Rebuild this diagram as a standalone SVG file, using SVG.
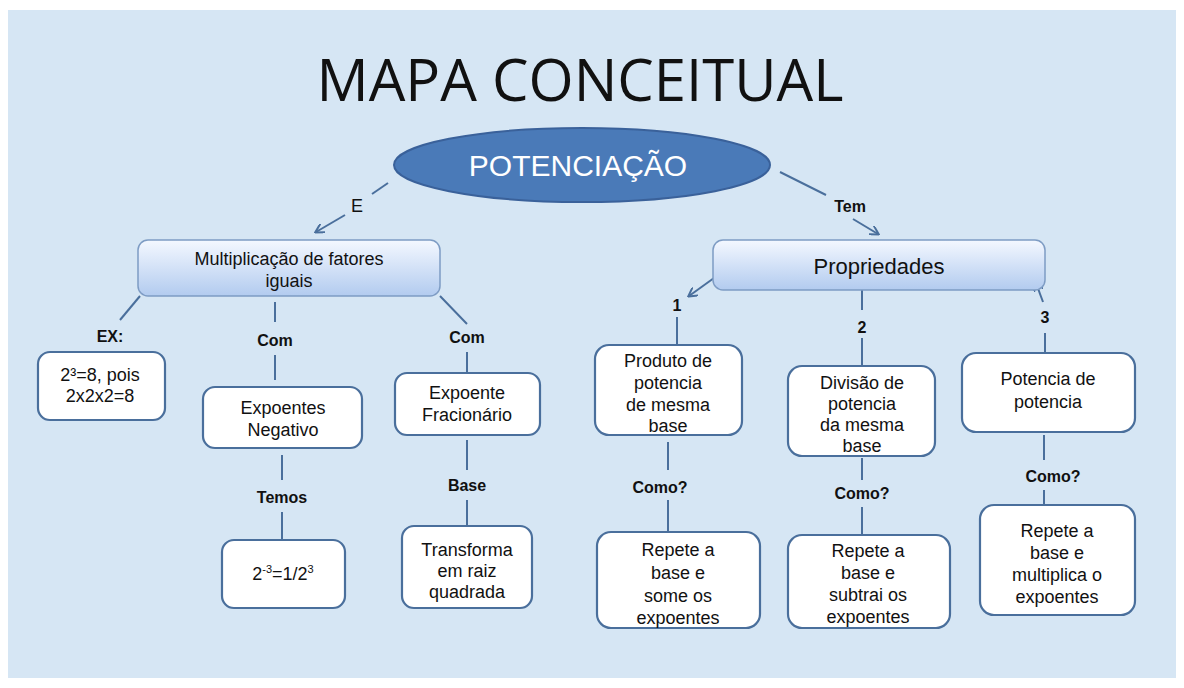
<svg xmlns="http://www.w3.org/2000/svg" width="1184" height="688" viewBox="0 0 1184 688">
<style>
text{font-family:"Liberation Sans",Arial,sans-serif;fill:#111;text-anchor:middle}
.n{font-size:18px}
.l{font-size:16px;font-weight:bold}
.b{fill:#fff;stroke:#4a6f9c;stroke-width:2.2}
.c{stroke:#4a6f9c;stroke-width:2;fill:none}
.a{marker-end:url(#ar)}
</style>
<defs>
<linearGradient id="g" x1="0" y1="0" x2="0" y2="1"><stop offset="0" stop-color="#f4f8ff"/><stop offset="1" stop-color="#b2cbef"/></linearGradient>
<marker id="ar" markerWidth="10" markerHeight="10" refX="8" refY="5" orient="auto" markerUnits="userSpaceOnUse"><path d="M0,0 L9,5 L0,10" fill="none" stroke="#4a6f9c" stroke-width="2"/></marker>
</defs>
<rect width="1184" height="688" fill="#fff"/>
<rect x="8" y="10" width="1168" height="668" fill="#d6e6f4"/>
<text x="580" y="101" style="font-family:'Open Sans','Liberation Sans',sans-serif;font-size:58px">MAPA CONCEITUAL</text>
<g id="connectors">
<path class="c" d="M388,183 L372,194"/><path class="c a" d="M345,215 L316,232"/>
<path class="c" d="M780,172 L826,195"/><path class="c a" d="M853,219 L878,234"/>
<path class="c" d="M140,296 L120,320"/>
<path class="c" d="M275,302 V322 M275,355 V380"/>
<path class="c" d="M440,296 L467,324 M467,352 V373"/>
<path class="c" d="M282,455 V480 M282,512 V540"/>
<path class="c" d="M467,440 V470 M467,500 V526"/>
<path class="c a" d="M714,278 L689,296"/><path class="c" d="M677,317 V345"/>
<path class="c" d="M862,285 V310 M862,338 V366"/>
<path class="c a" d="M1043,302 L1036,283"/><path class="c" d="M1045,333 V354"/>
<path class="c" d="M668,442 V470 M668,500 V532"/>
<path class="c" d="M862,458 V480 M862,507 V535"/>
<path class="c" d="M1044,435 V460 M1044,490 V505"/>
</g>
<g id="lbls">
<text x="357" y="212" class="n">E</text>
<text x="850" y="212" class="l">Tem</text>
<text x="110" y="342" class="l">EX:</text>
<text x="275" y="346" class="l">Com</text>
<text x="467" y="343" class="l">Com</text>
<text x="282" y="503" class="l">Temos</text>
<text x="467" y="491" class="l">Base</text>
<text x="677" y="311" class="l">1</text>
<text x="862" y="333" class="l">2</text>
<text x="1045" y="323" class="l">3</text>
<text x="660" y="493" class="l">Como?</text>
<text x="862" y="499" class="l">Como?</text>
<text x="1053" y="482" class="l">Como?</text>
</g>
<g id="potenciacao"><ellipse cx="582" cy="165" rx="188" ry="37" fill="#4a7ab8" stroke="#3a619a" stroke-width="2"/><text x="578" y="176" style="font-size:30px;fill:#fff">POTENCIAÇÃO</text></g>
<g id="mult"><rect x="138" y="240" width="302" height="56" rx="10" fill="url(#g)" stroke="#7e9cc4" stroke-width="1.5"/><text x="289" y="265" class="n">Multiplicação de fatores</text><text x="289" y="287" class="n">iguais</text></g>
<g id="prop"><rect x="713" y="240" width="332" height="50" rx="10" fill="url(#g)" stroke="#7e9cc4" stroke-width="1.5"/><text x="879" y="274" style="font-size:22px">Propriedades</text></g>
<g id="ex"><rect class="b" x="38" y="352" width="127" height="68" rx="12"/><text x="100" y="381" class="n">2³=8, pois</text><text x="100" y="402" class="n">2x2x2=8</text></g>
<g id="neg"><rect class="b" x="203" y="387" width="159" height="61" rx="12"/><text x="283" y="414" class="n">Expoentes</text><text x="283" y="436" class="n">Negativo</text></g>
<g id="frac"><rect class="b" x="395" y="373" width="145" height="62" rx="12"/><text x="467" y="399" class="n">Expoente</text><text x="467" y="421" class="n">Fracionário</text></g>
<g id="negex"><rect class="b" x="222" y="540" width="123" height="68" rx="12"/><text x="283" y="580" class="n">2<tspan font-size="11" dy="-7">-3</tspan><tspan dy="7">=1/2</tspan><tspan font-size="11" dy="-7">3</tspan></text></g>
<g id="raiz"><rect class="b" x="402" y="526" width="130" height="82" rx="12"/><text x="467" y="556" class="n">Transforma</text><text x="467" y="577" class="n">em raiz</text><text x="467" y="598" class="n">quadrada</text></g>
<g id="produto"><rect class="b" x="595" y="345" width="147" height="90" rx="14"/><text x="668" y="367" class="n">Produto de</text><text x="668" y="389" class="n">potencia</text><text x="668" y="411" class="n">de mesma</text><text x="668" y="432" class="n">base</text></g>
<g id="divisao"><rect class="b" x="788" y="366" width="147" height="90" rx="14"/><text x="862" y="389" class="n">Divisão de</text><text x="862" y="410" class="n">potencia</text><text x="862" y="431" class="n">da mesma</text><text x="862" y="452" class="n">base</text></g>
<g id="potpot"><rect class="b" x="962" y="353" width="173" height="79" rx="14"/><text x="1048" y="385" class="n">Potencia de</text><text x="1048" y="408" class="n">potencia</text></g>
<g id="r1"><rect class="b" x="597" y="532" width="163" height="96" rx="14"/><text x="678" y="556" class="n">Repete a</text><text x="678" y="579" class="n">base e</text><text x="678" y="602" class="n">some os</text><text x="678" y="624" class="n">expoentes</text></g>
<g id="r2"><rect class="b" x="788" y="535" width="162" height="93" rx="14"/><text x="868" y="557" class="n">Repete a</text><text x="868" y="579" class="n">base e</text><text x="868" y="601" class="n">subtrai os</text><text x="868" y="623" class="n">expoentes</text></g>
<g id="r3"><rect class="b" x="980" y="505" width="155" height="110" rx="14"/><text x="1057" y="537" class="n">Repete a</text><text x="1057" y="559" class="n">base e</text><text x="1057" y="581" class="n">multiplica o</text><text x="1057" y="603" class="n">expoentes</text></g>
</svg>
